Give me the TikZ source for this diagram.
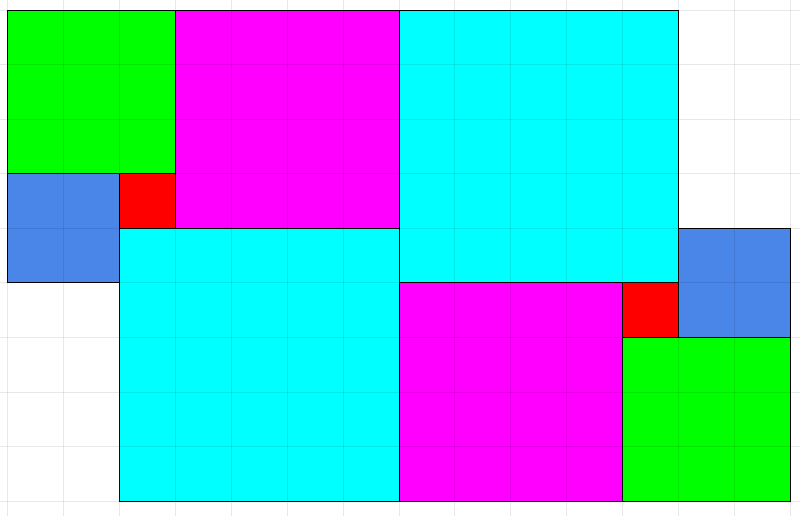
\documentclass[tikz,border=0pt]{standalone}
\usepackage{xcolor}

\definecolor{sqgreen}{HTML}{00FF00}
\definecolor{sqmagenta}{HTML}{FF00FF}
\definecolor{sqcyan}{HTML}{00FFFF}
\definecolor{sqred}{HTML}{FF0000}
\definecolor{sqblue}{HTML}{4A86E8}

\tikzset{
    tile/.style={draw=black, line width=0.5pt},
    gridline/.style={draw=black, opacity=0.09, line width=0.5pt}
}

\begin{document}
\begin{tikzpicture}[x=1cm, y=-0.977cm]
        \useasboundingbox (-0.143cm, 0.179cm) rectangle (14.178cm, -9.048cm);

        % Left part
        \draw[tile, fill=sqgreen] (0, 0) rectangle (3, 3);
        \draw[tile, fill=sqmagenta] (3, 0) rectangle (7, 4);
        \draw[tile, fill=sqblue] (0, 3) rectangle (2, 5);
        \draw[tile, fill=sqred] (2, 3) rectangle (3, 4);
        \draw[tile, fill=sqcyan] (2, 4) rectangle (7, 9);

        % Right part
        \draw[tile, fill=sqcyan] (7, 0) rectangle (12, 5);
        \draw[tile, fill=sqmagenta] (7, 5) rectangle (11, 9);
        \draw[tile, fill=sqred] (11, 5) rectangle (12, 6);
        \draw[tile, fill=sqblue] (12, 4) rectangle (14, 6);
        \draw[tile, fill=sqgreen] (11, 6) rectangle (14, 9);

        % Grid on top
        \foreach \i in {0,...,14}
            \draw[gridline] (\i, -0.2) -- (\i, 9.3);
        \foreach \j in {0,...,9}
            \draw[gridline] (-0.2, \j) -- (14.3, \j);
    \end{tikzpicture}
\end{document}
